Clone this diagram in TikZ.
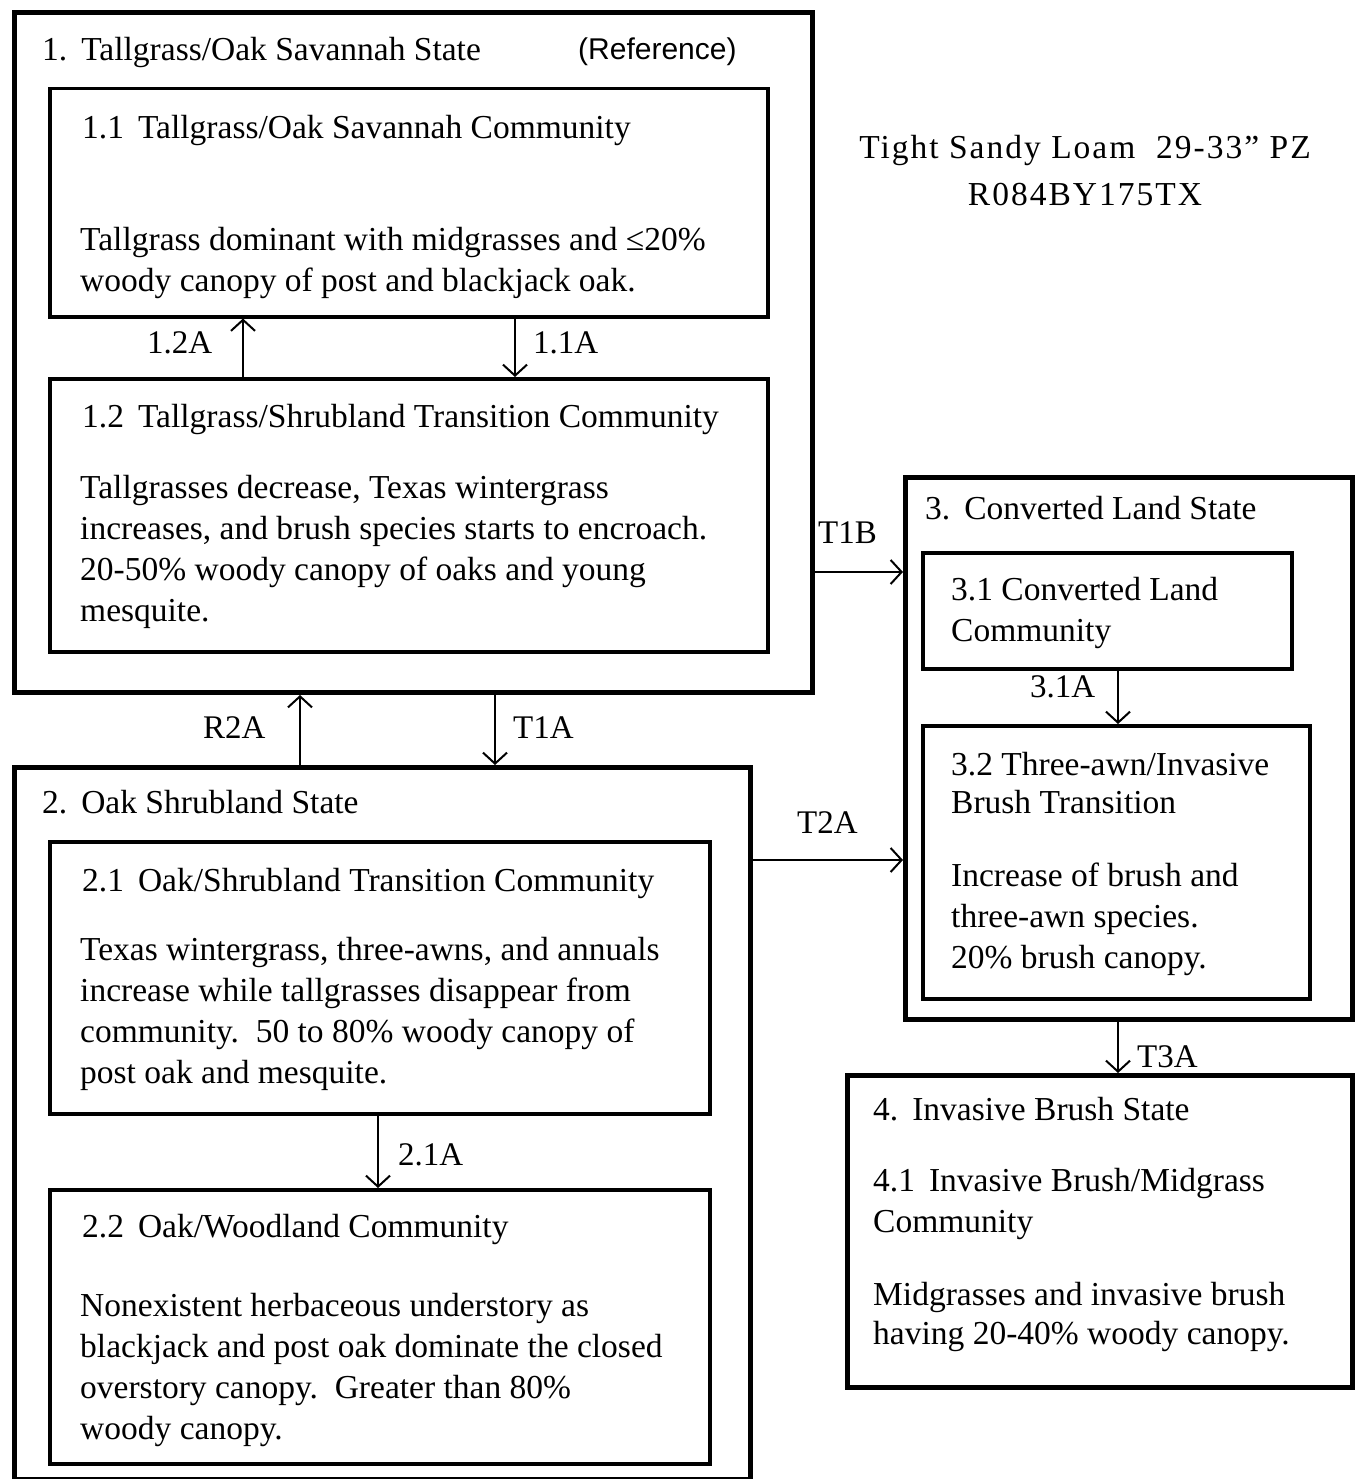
\documentclass[tikz,border=0pt]{standalone}
\usepackage{fontspec}
\setmainfont{Liberation Serif}
\newfontfamily\refsans{Liberation Sans}
\newfontfamily\headfont[LetterSpace=6]{Liberation Serif}
\usetikzlibrary{arrows.meta}
\begin{document}
\begin{tikzpicture}[x=1pt,y=-1pt,
 statebox/.style={draw, line width=5pt, inner sep=0pt, anchor=north west},
 commbox/.style={draw, line width=3.5pt, inner sep=0pt, anchor=north west},
 txt/.style={anchor=north west, inner sep=0pt, align=left, font=\fontsize{33.5}{41}\selectfont},
 lbl/.style={anchor=west, inner sep=0pt, font=\fontsize{33}{41}\selectfont},
 arr/.style={line width=2pt, -{Straight Barb[length=11pt,width=24pt,line width=2pt]}}]
\useasboundingbox (0,0) rectangle (1358,1479);
\fill[white] (0,0) rectangle (1358,1479);

% boxes
\node[statebox, minimum width=798pt, minimum height=680pt] (s1) at (12,10) {};
\node[commbox, minimum width=718pt, minimum height=228pt] (s11) at (48,87) {};
\node[commbox, minimum width=718pt, minimum height=273pt] (s12) at (48,377) {};
\node[statebox, minimum width=736pt, minimum height=712pt] (s2) at (12,765) {};
\node[commbox, minimum width=660pt, minimum height=272pt] (s21) at (48,840) {};
\node[commbox, minimum width=660pt, minimum height=274pt] (s22) at (48,1188) {};
\node[statebox, minimum width=447pt, minimum height=542pt] (s3) at (903,475) {};
\node[commbox, minimum width=369pt, minimum height=116pt] (s31) at (921,551) {};
\node[commbox, minimum width=387pt, minimum height=273pt] (s32) at (921,724) {};
\node[statebox, minimum width=505pt, minimum height=312pt] (s4) at (845,1073) {};

% connectors
\draw[arr] (243,0 |- s12.north) -- (243,0 |- s11.south);
\draw[arr] (515,0 |- s11.south) -- (515,0 |- s12.north);
\draw[arr] (300,0 |- s2.north) -- (300,0 |- s1.south);
\draw[arr] (495,0 |- s1.south) -- (495,0 |- s2.north);
\draw[arr] (s1.east |- 0,572) -- (s3.west |- 0,572);
\draw[arr] (s2.east |- 0,860) -- (s3.west |- 0,860);
\draw[arr] (1118,0 |- s31.south) -- (1118,0 |- s32.north);
\draw[arr] (378,0 |- s21.south) -- (378,0 |- s22.north);
\draw[arr] (1118,0 |- s3.south) -- (1118,0 |- s4.north);

% connector labels
\node[lbl] (l12a) at (147,343) {1.2A};
\node[lbl] (l11a) at (533,343) {1.1A};
\node[lbl] (lr2a) at (203,728) {R2A};
\node[lbl] (lt1a) at (513,728) {T1A};
\node[lbl] (lt1b) at (818,533) {T1B};
\node[lbl] (lt2a) at (797,823) {T2A};
\node[lbl] (l31a) at (1030,687) {3.1A};
\node[lbl] (l21a) at (398,1155) {2.1A};
\node[lbl] (lt3a) at (1137,1057) {T3A};

% heading
\node[anchor=north, inner sep=0pt, align=center, font=\headfont\fontsize{33.5}{47}\selectfont] (head) at (1085,135)
  {Tight Sandy Loam\ \ 29-33” PZ\\R084BY175TX};

% state 1
\node[txt] (t1) at (42,37) {1.\hspace{14pt}Tallgrass/Oak Savannah State};
\node[anchor=north west, inner sep=0pt, font=\refsans\fontsize{30}{36}\selectfont] (ref) at (578,38) {(Reference)};
\node[txt] (t11) at (82,115) {1.1\hspace{14pt}Tallgrass/Oak Savannah Community};
\node[txt] (b11) at (80,227) {Tallgrass dominant with midgrasses and ≤20\%\\woody canopy of post and blackjack oak.};
\node[txt] (t12) at (82,404) {1.2\hspace{14pt}Tallgrass/Shrubland Transition Community};
\node[txt] (b12) at (80,475) {Tallgrasses decrease, Texas wintergrass\\increases, and brush species starts to encroach.\\20-50\% woody canopy of oaks and young\\mesquite.};

% state 2
\node[txt] (t2) at (42,790) {2.\hspace{14pt}Oak Shrubland State};
\node[txt] (t21) at (82,868) {2.1\hspace{14pt}Oak/Shrubland Transition Community};
\node[txt] (b21) at (80,937) {Texas wintergrass, three-awns, and annuals\\increase while tallgrasses disappear from\\community.\ \ 50 to 80\% woody canopy of\\post oak and mesquite.};
\node[txt] (t22) at (82,1214) {2.2\hspace{14pt}Oak/Woodland Community};
\node[txt] (b22) at (80,1293) {Nonexistent herbaceous understory as\\blackjack and post oak dominate the closed\\overstory canopy.\ \ Greater than 80\%\\woody canopy.};

% state 3
\node[txt] (t3) at (925,496) {3.\hspace{14pt}Converted Land State};
\node[txt] (t31) at (951,577) {3.1 Converted Land\\Community};
\node[txt, font=\fontsize{33.5}{38}\selectfont] (t32) at (951,752) {3.2 Three-awn/Invasive\\Brush Transition};
\node[txt] (b32) at (951,863) {Increase of brush and\\three-awn species.\\20\% brush canopy.};

% state 4
\node[txt] (t4) at (873,1097) {4.\hspace{14pt}Invasive Brush State};
\node[txt] (t41) at (873,1168) {4.1\hspace{14pt}Invasive Brush/Midgrass\\Community};
\node[txt, font=\fontsize{33.5}{39}\selectfont] (b4) at (873,1282) {Midgrasses and invasive brush\\having 20-40\% woody canopy.};
\end{tikzpicture}
\end{document}
